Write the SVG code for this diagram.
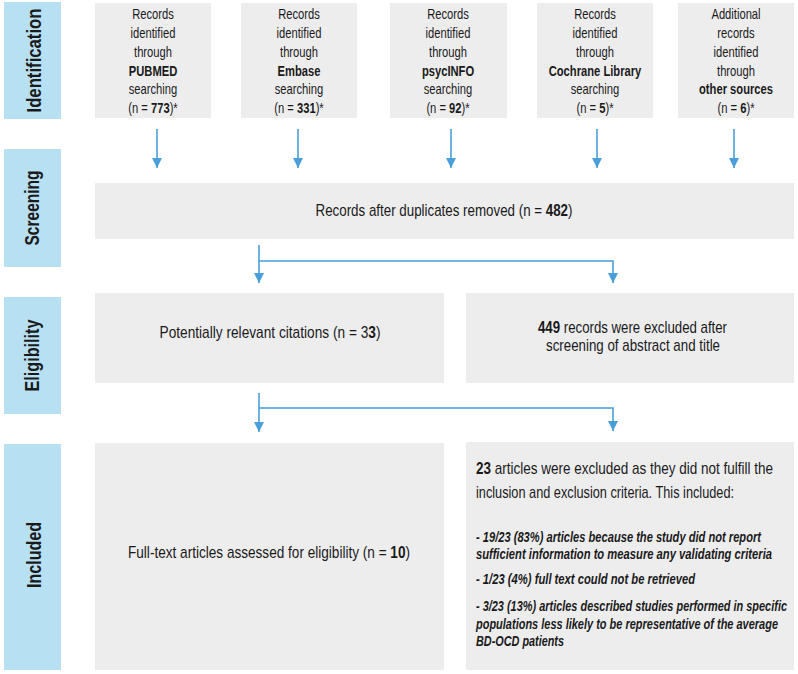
<svg xmlns="http://www.w3.org/2000/svg" width="798" height="674" viewBox="0 0 798 674">
<defs>
<style>
.side{fill:#b8e0f3}
.box{fill:#ededee}
text{font-family:"Liberation Sans",Arial,sans-serif;fill:#1a1a1a}
.lab{font-size:20px;font-weight:bold;text-anchor:middle}
.t{font-size:14px;text-anchor:middle}
.m{font-size:17px;text-anchor:middle}
.l{font-size:17px}
.i{font-size:14.5px;font-style:italic;font-weight:bold}
.b{font-weight:bold}
.c{fill:none;stroke:#4a9fd9;stroke-width:1.6}
</style>
<marker id="ah" viewBox="0 0 10 10" refX="10" refY="5" markerWidth="10" markerHeight="10" markerUnits="userSpaceOnUse" orient="auto">
<path d="M0,0 L10,5 L0,10 Z" fill="#4a9fd9"/>
</marker>
</defs>
<rect width="798" height="674" fill="#fff"/>

<g id="stage-identification"><rect class="side" x="4" y="2" width="57" height="117"/><text class="lab" transform="translate(41,60.5) rotate(-90)" textLength="104" lengthAdjust="spacingAndGlyphs">Identification</text></g>
<g id="stage-screening"><rect class="side" x="4" y="149" width="57" height="118"/><text class="lab" transform="translate(39,208) rotate(-90)" textLength="75" lengthAdjust="spacingAndGlyphs">Screening</text></g>
<g id="stage-eligibility"><rect class="side" x="4" y="297" width="57" height="117"/><text class="lab" transform="translate(39,355.5) rotate(-90)" textLength="72" lengthAdjust="spacingAndGlyphs">Eligibility</text></g>
<g id="stage-included"><rect class="side" x="4" y="444" width="57" height="226"/><text class="lab" transform="translate(41,555) rotate(-90)" textLength="66" lengthAdjust="spacingAndGlyphs">Included</text></g>

<g id="pubmed"><rect class="box" x="95" y="3" width="116" height="115"/>
<g transform="translate(153,0) scale(0.8,1)">
<text class="t" x="0" y="19">Records</text><text class="t" x="0" y="38">identified</text><text class="t" x="0" y="57">through</text><text class="t b" x="0" y="76">PUBMED</text><text class="t" x="0" y="94">searching</text><text class="t" x="0" y="113">(n = <tspan class="b">773</tspan>)*</text></g></g>
<g id="embase"><rect class="box" x="241" y="3" width="116" height="115"/>
<g transform="translate(299,0) scale(0.8,1)">
<text class="t" x="0" y="19">Records</text><text class="t" x="0" y="38">identified</text><text class="t" x="0" y="57">through</text><text class="t b" x="0" y="76">Embase</text><text class="t" x="0" y="94">searching</text><text class="t" x="0" y="113">(n = <tspan class="b">331</tspan>)*</text></g></g>
<g id="psycinfo"><rect class="box" x="390" y="3" width="117" height="115"/>
<g transform="translate(448,0) scale(0.8,1)">
<text class="t" x="0" y="19">Records</text><text class="t" x="0" y="38">identified</text><text class="t" x="0" y="57">through</text><text class="t b" x="0" y="76">psycINFO</text><text class="t" x="0" y="94">searching</text><text class="t" x="0" y="113">(n = <tspan class="b">92</tspan>)*</text></g></g>
<g id="cochrane"><rect class="box" x="537" y="3" width="116" height="115"/>
<g transform="translate(595,0) scale(0.8,1)">
<text class="t" x="0" y="19">Records</text><text class="t" x="0" y="38">identified</text><text class="t" x="0" y="57">through</text><text class="t b" x="0" y="76">Cochrane Library</text><text class="t" x="0" y="94">searching</text><text class="t" x="0" y="113">(n = <tspan class="b">5</tspan>)*</text></g></g>
<g id="other"><rect class="box" x="678" y="3" width="116" height="115"/>
<g transform="translate(736,0) scale(0.8,1)">
<text class="t" x="0" y="19">Additional</text><text class="t" x="0" y="38">records</text><text class="t" x="0" y="57">identified</text><text class="t" x="0" y="76">through</text><text class="t b" x="0" y="94">other sources</text><text class="t" x="0" y="113">(n = <tspan class="b">6</tspan>)*</text></g></g>

<g id="deduplicated"><rect class="box" x="95" y="183" width="699" height="56"/>
<text class="m" x="444" y="216" textLength="257" lengthAdjust="spacingAndGlyphs">Records after duplicates removed (n = <tspan class="b">482</tspan>)</text></g>

<g id="relevant"><rect class="box" x="95" y="293" width="349" height="90"/>
<text class="m" x="270" y="338" textLength="221" lengthAdjust="spacingAndGlyphs">Potentially relevant citations (n = 3<tspan class="b">3</tspan>)</text></g>
<g id="excluded-screening"><rect class="box" x="466" y="293" width="328" height="90"/>
<text class="m" x="632.5" y="333" textLength="189" lengthAdjust="spacingAndGlyphs"><tspan class="b">449</tspan> records were excluded after</text>
<text class="m" x="633" y="351" textLength="174" lengthAdjust="spacingAndGlyphs">screening of abstract and title</text></g>

<g id="fulltext"><rect class="box" x="95" y="443" width="349" height="227"/>
<text class="m" x="269" y="558" textLength="282" lengthAdjust="spacingAndGlyphs">Full-text articles assessed for eligibility (n = <tspan class="b">10</tspan>)</text></g>
<g id="excluded-fulltext"><rect class="box" x="466" y="442" width="328" height="228"/>
<text class="l" x="476" y="474" textLength="297" lengthAdjust="spacingAndGlyphs"><tspan class="b">23</tspan> articles were excluded as they did not fulfill the</text>
<text class="l" x="476" y="498" textLength="258" lengthAdjust="spacingAndGlyphs">inclusion and exclusion criteria. This included:</text>
<text class="i" x="476" y="542" textLength="285" lengthAdjust="spacingAndGlyphs">- 19/23 (83%) articles because the study did not report</text>
<text class="i" x="476" y="559" textLength="296" lengthAdjust="spacingAndGlyphs">sufficient information to measure any validating criteria</text>
<text class="i" x="476" y="584" textLength="219" lengthAdjust="spacingAndGlyphs">- 1/23 (4%) full text could not be retrieved</text>
<text class="i" x="476" y="611" textLength="311" lengthAdjust="spacingAndGlyphs">- 3/23 (13%) articles described studies performed in specific</text>
<text class="i" x="476" y="629" textLength="302" lengthAdjust="spacingAndGlyphs">populations less likely to be representative of the average</text>
<text class="i" x="476" y="646" textLength="88" lengthAdjust="spacingAndGlyphs">BD-OCD patients</text></g>

<g id="connectors">
<line class="c" x1="157" y1="129" x2="157" y2="168" marker-end="url(#ah)"/>
<line class="c" x1="298" y1="129" x2="298" y2="168" marker-end="url(#ah)"/>
<line class="c" x1="451" y1="129" x2="451" y2="168" marker-end="url(#ah)"/>
<line class="c" x1="597" y1="129" x2="597" y2="168" marker-end="url(#ah)"/>
<line class="c" x1="734" y1="129" x2="734" y2="168" marker-end="url(#ah)"/>
<line class="c" x1="259" y1="245" x2="259" y2="283" marker-end="url(#ah)"/>
<polyline class="c" points="259,261 613,261 613,283" marker-end="url(#ah)"/>
<line class="c" x1="259" y1="393" x2="259" y2="432" marker-end="url(#ah)"/>
<polyline class="c" points="259,408 613,408 613,431" marker-end="url(#ah)"/>
</g>
</svg>
